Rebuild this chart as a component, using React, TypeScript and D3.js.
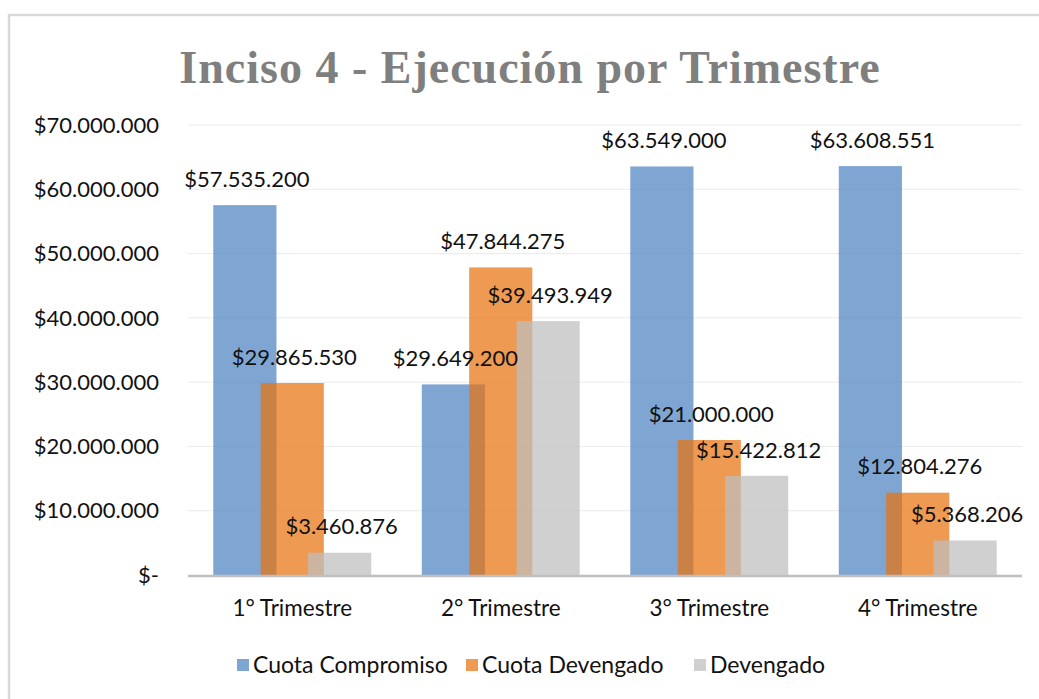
import React from "react";
import * as d3 from "d3";

const categories = ["1° Trimestre", "2° Trimestre", "3° Trimestre", "4° Trimestre"];
const seriesNames = ["Cuota Compromiso", "Cuota Devengado", "Devengado"];
const cuotaCompromiso = [57535200, 29649200, 63549000, 63608551];
const cuotaDevengado = [29865530, 47844275, 21000000, 12804276];
const devengado = [3460876, 39493949, 15422812, 5368206];
const yTicks = [0, 10000000, 20000000, 30000000, 40000000, 50000000, 60000000, 70000000];

const seriesValues = [cuotaCompromiso, cuotaDevengado, devengado];
const seriesColors = ["rgb(77,131,194)", "rgb(231,115,15)", "rgb(190,190,190)"];
const legendColors = ["#7FA6D3", "#EE9A52", "#D0D0D0"];

const W = 1039;
const H = 699;
const left = 188;
const right = 1022;
const top = 125;
const bottom = 575;

function fmt(v: number): string {
  if (v === 0) return "$-";
  const s = Math.round(v).toString();
  return "$" + s.replace(/\B(?=(\d{3})+(?!\d))/g, ".");
}

export default function App() {
  const x = d3.scaleBand<string>().domain(categories).range([left, right]).padding(0);
  const y = d3.scaleLinear().domain([0, 70000000]).range([bottom, top]);
  const band = x.bandwidth();
  const bw = band * 0.303;
  const step = bw * 0.75;
  const groupW = bw + step * 2;
  const font = "Lato, 'Open Sans', sans-serif";

  return (
    <svg width={W} height={H} style={{ position: "absolute", left: 0, top: 0, background: "#fff" }}>
      {/* frame */}
      <path d={`M9,${H} L9,15 L${W},15`} fill="none" stroke="#D9D9D9" strokeWidth={2.5} />
      {/* title */}
      <text x={530} y={83} textAnchor="middle" fontFamily="'Liberation Serif', serif" fontWeight="bold" fontSize={46} fill="#7F7F7F" letterSpacing={1}>
        Inciso 4 - Ejecución por Trimestre
      </text>
      {/* gridlines */}
      {yTicks.filter((t) => t > 0).map((t) => (
        <line key={t} x1={left} x2={right} y1={y(t)} y2={y(t)} stroke="#EBEBEB" strokeWidth={1} />
      ))}
      {/* y tick labels */}
      {yTicks.map((t) => (
        <text key={t} x={159} y={y(t)} dy="0.35em" textAnchor="end" fontFamily={font} fontSize={22} fill="#111">
          {fmt(t)}
        </text>
      ))}
      {/* bars */}
      {seriesValues.map((vals, si) =>
        vals.map((v, ci) => {
          const cx = (x(categories[ci]) as number) + band / 2;
          const bx = cx - groupW / 2 + si * step;
          return (
            <rect key={`${si}-${ci}`} x={bx} y={y(v)} width={bw} height={bottom - y(v)} fill={seriesColors[si]} fillOpacity={0.72} />
          );
        })
      )}
      {/* baseline */}
      <line x1={left} x2={right} y1={bottom + 1} y2={bottom + 1} stroke="#BFBFBF" strokeWidth={2.5} />
      {/* data labels */}
      {seriesValues.map((vals, si) =>
        vals.map((v, ci) => {
          const cx = (x(categories[ci]) as number) + band / 2;
          const bx = cx - groupW / 2 + si * step + bw / 2;
          return (
            <text key={`l${si}-${ci}`} x={bx + 2} y={y(v) - 26} dy="0.35em" textAnchor="middle" fontFamily={font} fontSize={22} fill="#111">
              {fmt(v)}
            </text>
          );
        })
      )}
      {/* category labels */}
      {categories.map((c) => (
        <text key={c} x={(x(c) as number) + band / 2} y={608} dy="0.35em" textAnchor="middle" fontFamily={font} fontSize={22.5} fill="#111">
          {c}
        </text>
      ))}
      {/* legend */}
      {seriesNames.map((n, i) => {
        const lx = [237, 466, 694][i];
        return (
          <g key={n}>
            <rect x={lx} y={659} width={12} height={12} fill={legendColors[i]} />
            <text x={lx + 16} y={665} dy="0.35em" fontFamily={font} fontSize={23} fill="#111">
              {n}
            </text>
          </g>
        );
      })}
    </svg>
  );
}
